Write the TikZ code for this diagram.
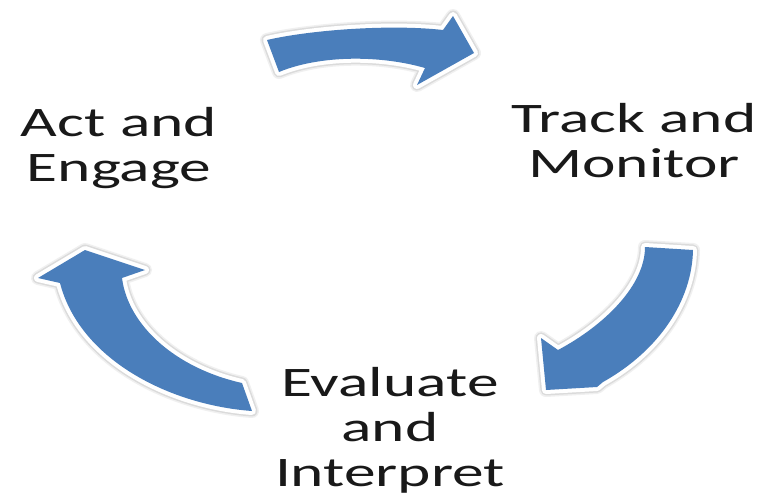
\documentclass[tikz,border=0pt]{standalone}
\usepackage{fontspec}
\setmainfont{Carlito}[FakeStretch=1.51]
\definecolor{cycleblue}{HTML}{4A7EBB}
\tikzset{
  stage/.style={align=center, inner sep=0pt, text=black!90,
    font=\fontsize{42}{45}\selectfont},
  cyclearrow/.style={fill=cycleblue, line join=round,
    preaction={draw=black!6, line width=14pt, line join=round},
    preaction={draw=black!14, line width=11pt, line join=round},
    preaction={draw=white, line width=8pt, line join=round}}
}
\begin{document}
\begin{tikzpicture}[x=1pt, y=-1pt]
            \useasboundingbox[fill=white] (0,0) rectangle (763,499);
            \node(act) [stage] at (119,148) {Act and\\Engage};
            \node(track) [stage] at (634,141) {Track and\\Monitor};
            \node(eval) [stage] at (390,430) {Evaluate\\and\\Interpret};
            % top arrow: act -> track
            \path[cyclearrow] (267,40) .. controls (310,30) and (390,24) .. (443,30)
              -- (453,16) -- (474,53) -- (417,85) -- (425,68)
              .. controls (380,55) and (320,55) .. (279,72) -- cycle;
            % right arrow: track -> eval
            \path[cyclearrow] (645,247) -- (693,250)
              .. controls (692,300) and (660,350) .. (603,382)
              -- (597,387) -- (546,390) -- (541,338) -- (558,350)
              .. controls (605,325) and (645,285) .. (645,247) -- cycle;
            % left arrow: eval -> act
            \path[cyclearrow] (242,383) -- (252,411)
              .. controls (170,405) and (80,360) .. (60,283)
              -- (38,278) -- (85,250) -- (145,270) -- (122,278)
              .. controls (128,325) and (175,368) .. (242,383) -- cycle;
            \end{tikzpicture}
\end{document}
